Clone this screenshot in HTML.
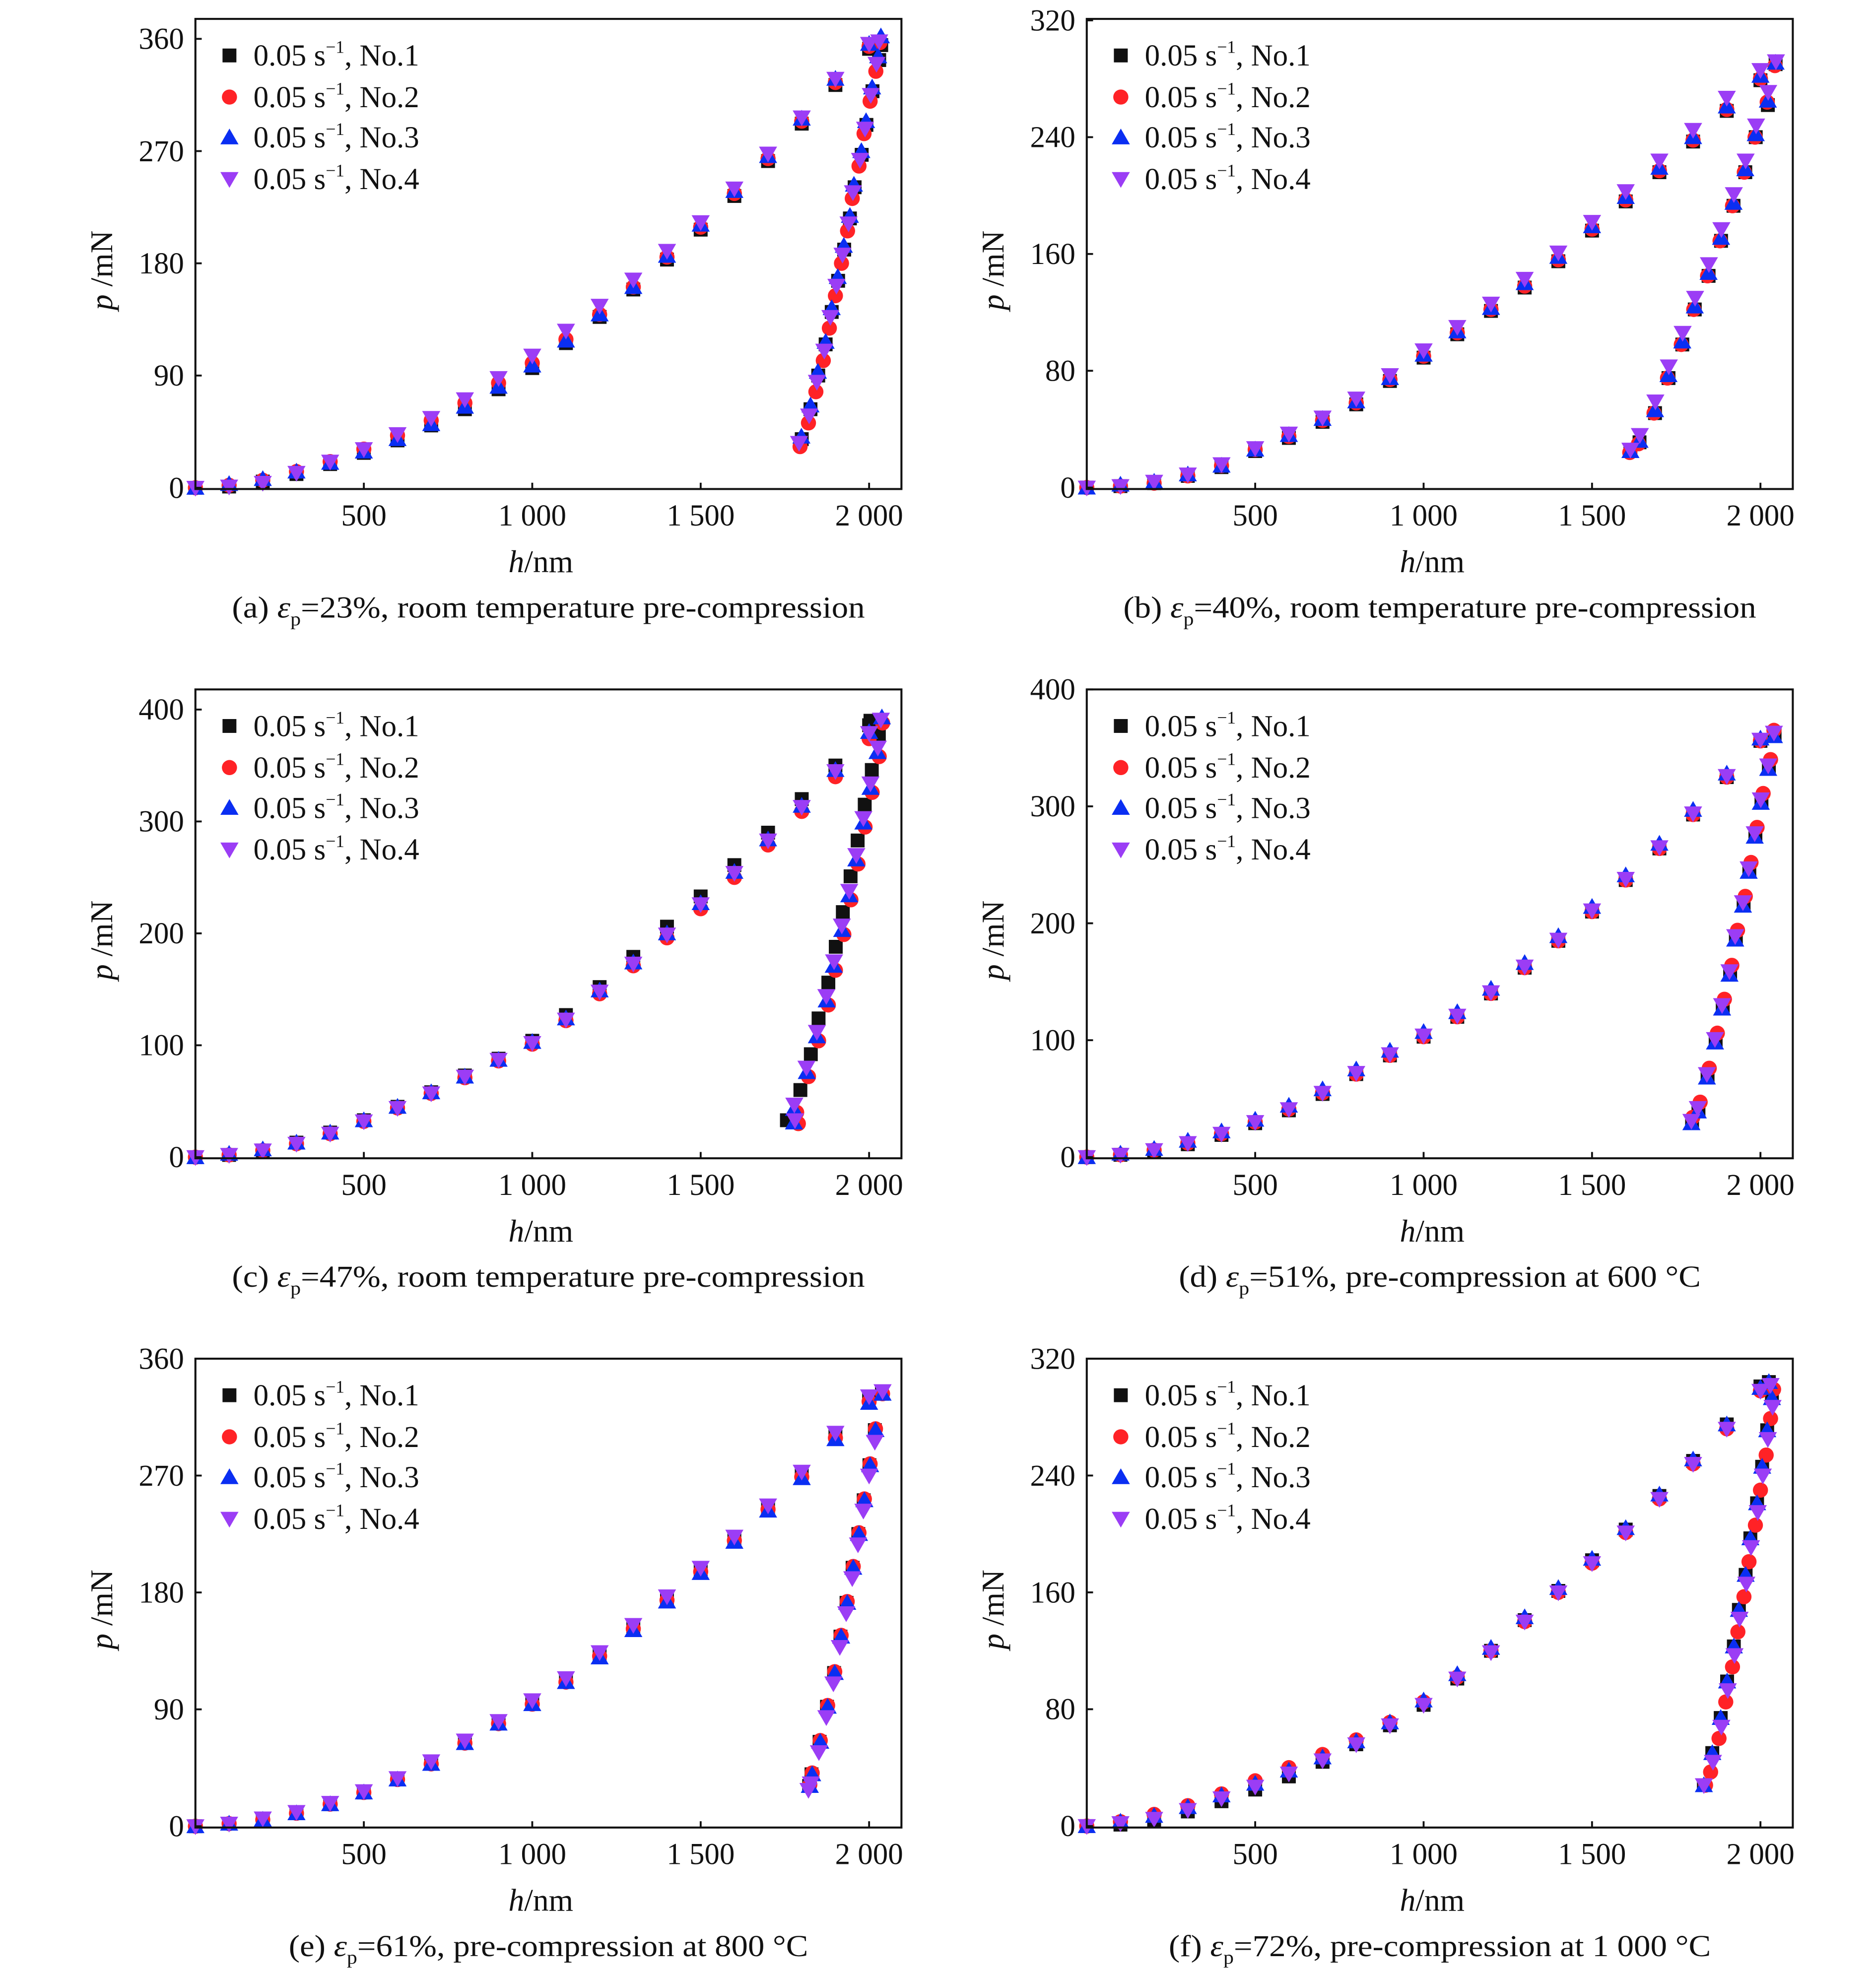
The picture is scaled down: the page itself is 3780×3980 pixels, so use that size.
<!DOCTYPE html>
<html><head><meta charset="utf-8"><style>
html,body{margin:0;padding:0;background:#fff;}
svg{display:block;}
text{font-family:"Liberation Serif","DejaVu Serif",serif;fill:#111;}
</style></head>
<body>
<svg id="fig" width="3780" height="3980" viewBox="0 0 1488 1567" preserveAspectRatio="none" xmlns="http://www.w3.org/2000/svg"></svg>
<script>
// Shared loading depth grid (nm)
const H = [0,100,200,300,400,500,600,700,800,900,1000,1100,1200,1300,1400,1500,1600,1700,1800,1900,2000];
const seriesNames = ["0.05 s", "0.05 s", "0.05 s", "0.05 s"];
const seriesNo = ["No.1","No.2","No.3","No.4"];

// Panel a
const aP1 = [0,1,5,11,19,28,38,50,63,79,96,116,137,159,183,207,234,262,292,323,352];
const aP2 = [0,2,6,13,21,31,42,54,68,84,100,119,139,161,185,209,236,264,294,325,354];
const aP3 = [0,3,7,13,20,29,39,51,65,81,98,118,139,161,186,211,238,266,296,328,356];
const aP4 = [0,1,4,12,21,31,43,56,71,88,106,126,146,167,190,213,240,268,297,328,356];
const aUH1 = [2036,2030,2010,1992,1978,1957,1943,1926,1908,1889,1871,1849,1826,1800];
const aUP1 = [355,343,318,291,267,241,216,191,166,141,115,90,63,39];
const aUH2 = [2032,2020,2003,1985,1970,1950,1936,1918,1900,1882,1864,1842,1820,1795];
const aUP2 = [357,334,310,284,258,232,206,180,154,128,102,77,52,33];
const aUH3 = [2035,2027,2009,1991,1977,1955,1943,1925,1907,1889,1871,1848,1826,1799];
const aUP3 = [362,346,321,294,270,243,218,194,169,144,117,93,66,41];
const aUH4 = [2030,2022,2005,1988,1973,1952,1939,1921,1903,1885,1867,1845,1822,1792];
const aUP4 = [358,340,315,288,263,237,212,187,162,137,110,85,58,36];

// Panel b
const bP1 = [0,1,3,8,14,25,34,45,57,73,89,105,121,137,155,176,196,216,237,258,279];
const bP2 = [0,1,3,8,15,26,35,46,58,74,90,106,122,138,156,177,197,217,238,259,280];
const bP3 = [0,2,4,9,15,26,36,47,59,75,91,107,123,140,158,179,199,219,240,261,282];
const bP4 = [0,1,4,9,16,27,37,48,61,77,94,110,126,143,161,182,203,224,245,267,286];
const bUH1 = [2045,2022,1986,1955,1920,1883,1846,1805,1768,1727,1687,1641,1614];
const bUP1 = [290,262,240,216,193,169,145,122,98,75,51,31,25];
const bUH2 = [2043,2020,1984,1952,1917,1880,1843,1802,1765,1724,1684,1638,1612];
const bUP2 = [289,264,240,216,193,169,145,122,98,75,51,30,24];
const bUH3 = [2045,2022,1986,1955,1920,1883,1846,1805,1768,1727,1687,1641,1614];
const bUP3 = [291,265,242,218,195,171,147,124,100,77,53,32,25];
const bUH4 = [2046,2023,1987,1956,1921,1884,1847,1806,1769,1728,1688,1642,1614];
const bUP4 = [292,271,248,224,201,177,153,130,106,83,59,36,26];

// Panel c
const cP1 = [0,2,6,13,22,33,45,58,73,88,104,127,152,179,206,233,261,290,320,350,386];
const cP2 = [0,2,6,12,21,32,44,57,71,86,101,122,146,171,196,222,250,279,309,340,374];
const cP3 = [0,3,7,13,22,33,45,58,72,87,103,124,149,174,200,227,255,284,314,346,380];
const cP4 = [0,2,6,12,21,32,44,57,72,87,102,123,148,173,199,226,254,283,313,345,379];
const cUH1 = [2004,2029,2008,1987,1966,1945,1922,1901,1879,1850,1827,1796,1756];
const cUP1 = [390,378,346,315,283,251,219,188,156,124,92,60,33];
const cUH2 = [2040,2030,2009,1988,1967,1946,1925,1900,1879,1850,1820,1785,1790];
const cUP2 = [388,358,326,295,262,230,199,167,136,104,72,40,30];
const cUH3 = [2038,2025,2004,1983,1962,1941,1920,1895,1874,1845,1815,1777,1777];
const cUP3 = [393,362,330,299,266,234,203,171,140,108,76,43,31];
const cUH4 = [2035,2026,2004,1983,1962,1941,1919,1896,1873,1845,1814,1778,1780];
const cUP4 = [391,366,334,303,270,238,207,175,144,112,80,47,33];

// Panel d
const dP1 = [0,2,5,11,19,29,40,54,71,87,103,120,140,162,185,210,237,264,293,325,356];
const dP2 = [0,2,6,12,20,30,41,55,71,87,103,120,140,162,185,210,237,264,293,325,356];
const dP3 = [0,3,7,14,22,32,44,58,75,91,107,124,144,166,189,214,241,268,297,328,358];
const dP4 = [0,2,6,12,20,30,41,55,72,88,104,121,141,163,186,211,238,265,294,326,357];
const dUH1 = [2042,2025,2003,1985,1967,1950,1927,1910,1888,1867,1843,1816,1797];
const dUP1 = [362,334,305,276,246,217,188,158,129,100,70,41,30];
const dUH2 = [2040,2030,2008,1990,1972,1955,1932,1915,1893,1872,1848,1821,1799];
const dUP2 = [365,340,311,282,252,223,194,164,135,106,76,47,34];
const dUH3 = [2040,2023,2001,1983,1965,1948,1925,1908,1886,1865,1841,1814,1795];
const dUP3 = [360,332,303,274,244,215,186,156,127,98,68,39,29];
const dUH4 = [2040,2023,2001,1983,1965,1948,1925,1908,1886,1865,1841,1814,1795];
const dUP4 = [363,335,306,277,247,218,189,159,130,101,71,42,31];

// Panel e
const eP1 = [0,2,5,10,17,26,36,49,65,80,96,113,133,154,176,198,222,246,272,302,330];
const eP2 = [0,2,5,10,17,26,36,48,64,79,94,111,131,152,174,196,220,244,269,299,327];
const eP3 = [0,2,5,10,17,26,36,48,64,79,94,111,130,151,173,195,219,243,268,298,326];
const eP4 = [0,2,6,11,18,27,37,50,66,81,97,114,134,155,177,199,223,247,273,303,331];
const eUH1 = [2038,2017,2001,1984,1968,1951,1933,1915,1896,1875,1853,1829,1822];
const eUP1 = [333,305,278,251,225,199,172,146,118,92,65,40,31];
const eUH2 = [2040,2019,2003,1986,1970,1953,1935,1917,1898,1877,1855,1831,1824];
const eUP2 = [333,306,279,252,226,200,173,147,119,93,66,41,32];
const eUH3 = [2040,2019,2003,1986,1970,1953,1935,1917,1898,1877,1855,1831,1824];
const eUP3 = [333,305,278,251,225,199,172,146,118,92,65,40,31];
const eUH4 = [2040,2017,2000,1983,1967,1950,1932,1913,1894,1873,1851,1827,1820];
const eUP4 = [335,296,270,243,217,191,164,138,110,84,57,33,28];

// Panel f
const fP1 = [0,1,4,10,17,25,34,44,56,69,83,101,120,141,161,182,203,226,250,275,301];
const fP2 = [0,3,8,14,22,31,40,49,59,71,85,102,120,140,160,180,201,224,248,272,298];
const fP3 = [0,3,7,13,21,29,38,47,58,71,86,104,122,143,163,183,204,227,251,275,300];
const fP4 = [0,2,5,11,19,27,36,45,56,69,83,101,119,140,160,180,201,224,248,272,298];
const fUH1 = [2025,2034,2020,2005,1990,1970,1956,1936,1921,1901,1882,1857,1832];
const fUP1 = [304,293,271,246,221,197,172,148,123,99,74,50,28];
const fUH2 = [2039,2030,2017,2000,1985,1966,1951,1933,1917,1897,1877,1852,1837];
const fUP2 = [299,279,254,230,206,181,157,133,109,85,60,37,28];
const fUH3 = [2025,2034,2020,2005,1990,1970,1956,1936,1921,1901,1882,1857,1832];
const fUP3 = [304,293,271,246,221,197,172,148,123,99,74,50,28];
const fUH4 = [2030,2036,2022,2007,1992,1972,1958,1938,1923,1903,1884,1859,1832];
const fUP4 = [302,287,265,240,215,191,166,142,117,93,68,44,28];

// Axis ticks
const xTicks = [500,1000,1500,2000];
const xTickLabels = ["500","1 000","1 500","2 000"];
const yTicksA = [0,90,180,270,360];
const yTicksB = [0,80,160,240,320];
const yTicksC = [0,100,200,300,400];

const panels = [
  {id:"a", L:155, T:15, B:388, yMin:-1, yMax:376, yt:yTicksA, load:[aP1,aP2,aP3,aP4], uh:[aUH1,aUH2,aUH3,aUH4], up:[aUP1,aUP2,aUP3,aUP4], cap:["(a) ","=23%, room temperature pre-compression"], capW:502},
  {id:"b", L:862, T:15, B:388, yMin:-1, yMax:321, yt:yTicksB, load:[bP1,bP2,bP3,bP4], uh:[bUH1,bUH2,bUH3,bUH4], up:[bUP1,bUP2,bUP3,bUP4], cap:["(b) ","=40%, room temperature pre-compression"], capW:502},
  {id:"c", L:155, T:547, B:919, yMin:-1, yMax:418, yt:yTicksC, load:[cP1,cP2,cP3,cP4], uh:[cUH1,cUH2,cUH3,cUH4], up:[cUP1,cUP2,cUP3,cUP4], cap:["(c) ","=47%, room temperature pre-compression"], capW:502},
  {id:"d", L:862, T:547, B:919, yMin:-1, yMax:400, yt:yTicksC, load:[dP1,dP2,dP3,dP4], uh:[dUH1,dUH2,dUH3,dUH4], up:[dUP1,dUP2,dUP3,dUP4], cap:["(d) ","=51%, pre-compression at 600 °C"], capW:414},
  {id:"e", L:155, T:1078, B:1450, yMin:-1, yMax:360, yt:yTicksA, load:[eP1,eP2,eP3,eP4], uh:[eUH1,eUH2,eUH3,eUH4], up:[eUP1,eUP2,eUP3,eUP4], cap:["(e) ","=61%, pre-compression at 800 °C"], capW:412},
  {id:"f", L:862, T:1078, B:1450, yMin:-1, yMax:320, yt:yTicksB, load:[fP1,fP2,fP3,fP4], uh:[fUH1,fUH2,fUH3,fUH4], up:[fUP1,fUP2,fUP3,fUP4], cap:["(f) ","=72%, pre-compression at 1 000 °C"], capW:430}
];

const NS = "http://www.w3.org/2000/svg";
const svg = document.getElementById("fig");
const colors = ["#111111","#ff2226","#0a2ef2","#9b3df5"];
const W = 560, xMin = 0, xMax = 2096;

function mk(tag, attrs, parent){
  const e = document.createElementNS(NS, tag);
  for (const k in attrs) e.setAttribute(k, attrs[k]);
  parent.appendChild(e);
  return e;
}
function marker(kind, x, y, parent){
  let e;
  if (kind===0) e = mk("rect",{x:x-5.5,y:y-5.5,width:11,height:11,fill:colors[0]},parent);
  else if (kind===1) e = mk("circle",{cx:x,cy:y,r:6,fill:colors[1]},parent);
  else if (kind===2) e = mk("polygon",{points:`${x},${y-7} ${x+7.2},${y+5.5} ${x-7.2},${y+5.5}`,fill:colors[2]},parent);
  else e = mk("polygon",{points:`${x-7.2},${y-5.5} ${x+7.2},${y-5.5} ${x},${y+7}`,fill:colors[3]},parent);
  return e;
}

panels.forEach(p => {
  const xs = h => p.L + (h - xMin) / (xMax - xMin) * W;
  const ys = v => p.B - (v - p.yMin) / (p.yMax - p.yMin) * (p.B - p.T);
  const g = mk("g",{},svg);
  
  

  for (let s = 0; s < 4; s++){
    const sg = mk("g",{},g);
    
    
    p.load[s].forEach((v,i) => {
      const m = marker(s, xs(H[i]), ys(v), sg);
      
      
    });
    p.uh[s].forEach((hv,i) => {
      const m = marker(s, xs(hv), ys(p.up[s][i]), sg);
      
      
    });
  }

  const fr = mk("rect",{x:p.L,y:p.T,width:W,height:p.B-p.T,fill:"none",stroke:"#111","stroke-width":1.6},g);
  
  

  xTicks.forEach((t,i) => {
    const x = xs(t);
    const tk = mk("line",{x1:x,y1:p.B,x2:x,y2:p.B-5,stroke:"#111","stroke-width":1.5},g);
    
    
    const tl = mk("text",{x:x,y:p.B+29,"font-size":24,"text-anchor":"middle"},g);
    tl.textContent = xTickLabels[i];
    
    
  });
  p.yt.forEach(t => {
    const y = ys(t);
    const tk = mk("line",{x1:p.L,y1:y,x2:p.L+5,y2:y,stroke:"#111","stroke-width":1.5},g);
    
    
    const tl = mk("text",{x:p.L-9,y:y+8,"font-size":24,"text-anchor":"end"},g);
    tl.textContent = String(t);
    
    
  });

  const cx = p.L + W/2 - 6;
  const xt = mk("text",{x:cx,y:p.B+66,"font-size":25,"text-anchor":"middle"},g);
  xt.innerHTML = '<tspan font-style="italic">h</tspan>/nm';
  
  
  const ymid = (p.T + p.B)/2 + 13;
  const yt = mk("text",{x:0,y:0,"font-size":25,"text-anchor":"middle",transform:`translate(${p.L-66},${ymid}) rotate(-90)`},g);
  yt.innerHTML = '<tspan font-style="italic">p</tspan> /mN';
  
  

  const cap = mk("text",{x:cx - p.capW/2 + 6,y:p.B+102,"font-size":24,textLength:p.capW,lengthAdjust:"spacingAndGlyphs"},g);
  cap.innerHTML = p.cap[0] + '<tspan font-style="italic">ε</tspan><tspan font-size="15" dy="6">p</tspan><tspan dy="-6">' + p.cap[1] + '</tspan>';
  
  

  const lg = mk("g",{},g);
  
  
  [29,62,94,127].forEach((dy,s) => {
    const row = mk("g",{},lg);
    
    
    marker(s, p.L+27, p.T+dy, row);
    const t = mk("text",{x:p.L+46,y:p.T+dy+8,"font-size":24},row);
    t.innerHTML = seriesNames[s] + '<tspan font-size="14" dy="-10">−1</tspan><tspan dy="10">, ' + seriesNo[s] + '</tspan>';
  });
});
</script>
</body></html>
